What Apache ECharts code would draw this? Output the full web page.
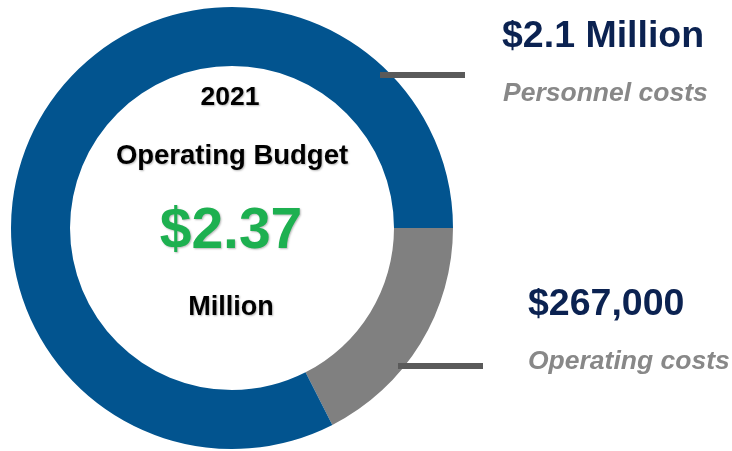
<!DOCTYPE html>
<html>
<head>
<meta charset="utf-8">
<script src="https://cdn.jsdelivr.net/npm/echarts@6/dist/echarts.min.js"></script>
<style>html,body{margin:0;padding:0;background:#fff}#c{width:732px;height:451px}</style>
</head>
<body>
<div id="c"></div>
<script>
// Slice shares as drawn in the picture (ring arc proportions)
var categories = ['Operating costs', 'Personnel costs'];
var shares = [17.5, 82.5];
var amountLabels = ['$267,000', '$2.1 Million'];
var colors = ['#808080', '#02548F'];
var centerLines = ['2021', 'Operating Budget', '$2.37', 'Million'];

var chart = echarts.init(document.getElementById('c'), null, {renderer: 'canvas'});
var F = 'Liberation Sans, Arial, sans-serif';
var shadow = {textShadowColor: 'rgba(0,0,0,0.28)', textShadowBlur: 2, textShadowOffsetX: 1, textShadowOffsetY: 1};

function txt(x, y, text, size, color, align, italic, sh) {
  var st = {x: x, y: y, text: text, fontFamily: F, fontSize: size, fontWeight: 'bold',
    fontStyle: italic ? 'italic' : 'normal', fill: color, align: align, verticalAlign: 'middle'};
  if (sh) Object.assign(st, sh);
  return {type: 'text', style: st, z: 10};
}

chart.setOption({
  animation: false,
  backgroundColor: '#ffffff',
  series: [{
    type: 'pie',
    center: [232, 228],
    radius: [162, 221],
    startAngle: 0,
    clockwise: true,
    label: {show: false},
    labelLine: {show: false},
    silent: true,
    data: categories.map(function (c, i) {
      return {name: c, value: shares[i], itemStyle: {color: colors[i]}};
    })
  }],
  graphic: [
    {type: 'rect', shape: {x: 380, y: 72, width: 85, height: 6}, style: {fill: '#5a5a5a'}, z: 10},
    {type: 'rect', shape: {x: 398, y: 363, width: 85, height: 6}, style: {fill: '#5a5a5a'}, z: 10},
    txt(502, 37, amountLabels[1], 37.5, '#0B2251', 'left'),
    txt(503, 94, categories[1], 26.5, '#888888', 'left', true),
    txt(528, 305, amountLabels[0], 37.5, '#0B2251', 'left'),
    txt(528, 362, categories[0], 26.5, '#888888', 'left', true),
    txt(230, 98, centerLines[0], 26.5, '#000000', 'center', false, shadow),
    txt(232, 156, centerLines[1], 27.5, '#000000', 'center', false, shadow),
    txt(231, 232, centerLines[2], 57, '#1DB050', 'center', false, shadow),
    txt(231, 308, centerLines[3], 27, '#000000', 'center', false, shadow)
  ]
});
</script>
</body>
</html>
